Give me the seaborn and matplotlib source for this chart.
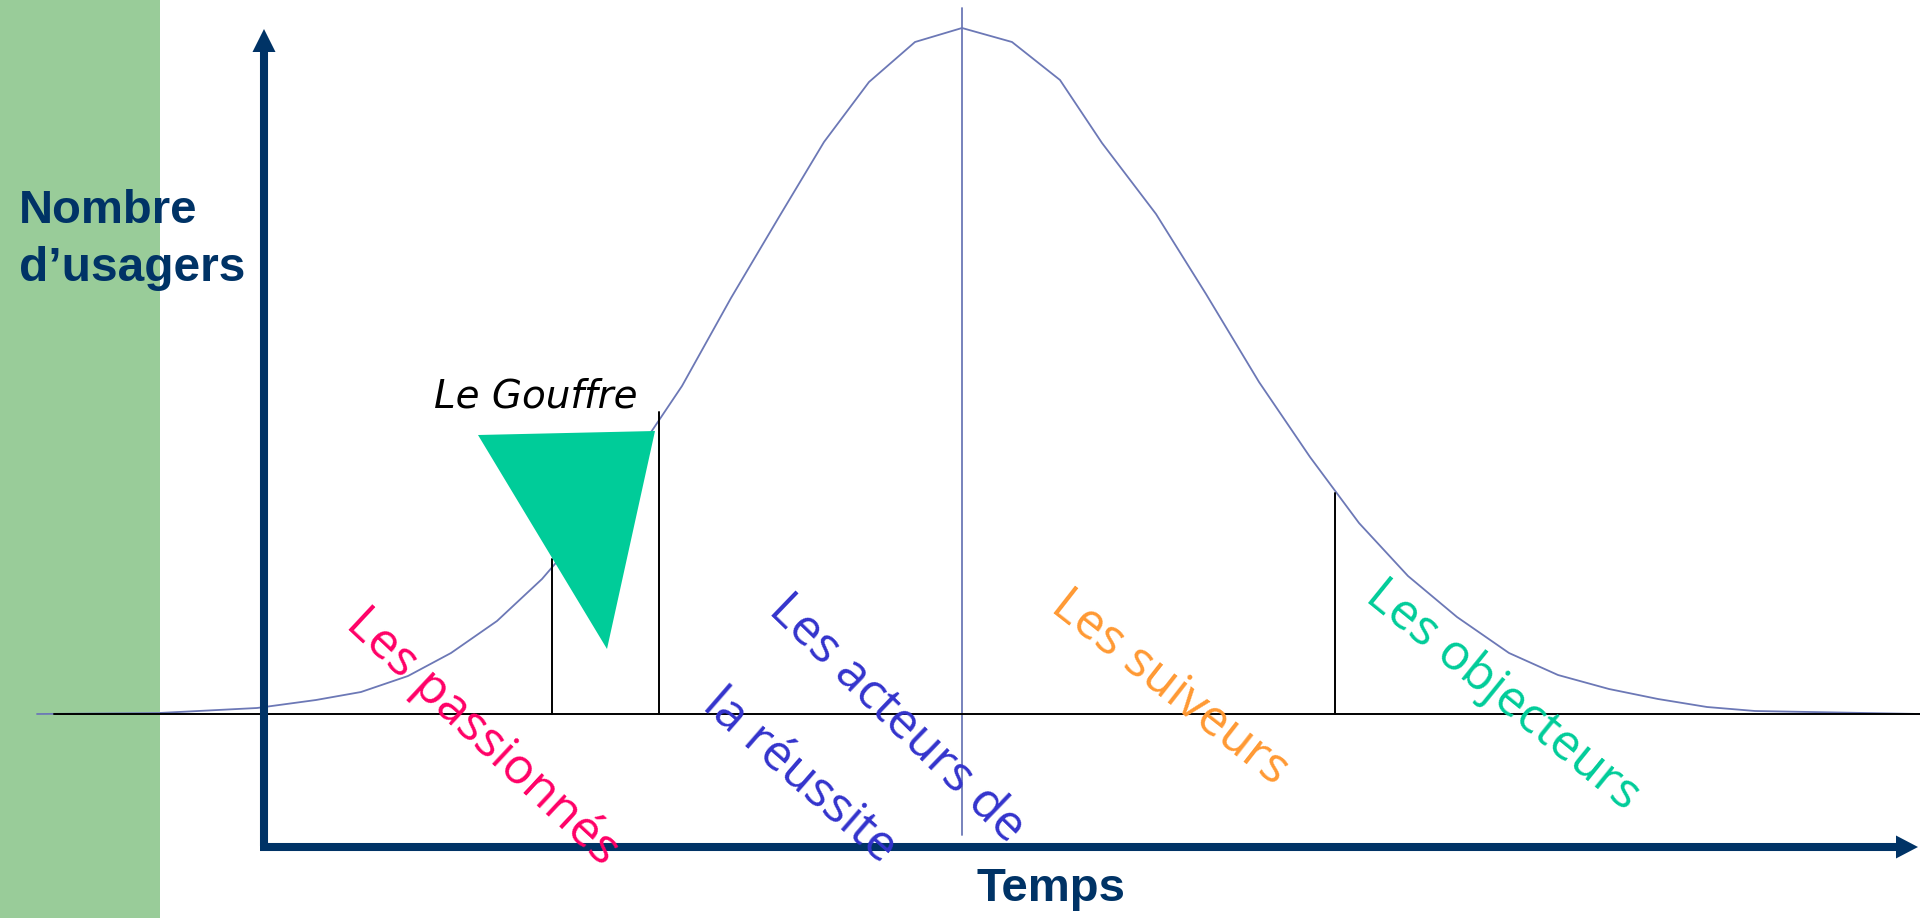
import matplotlib
matplotlib.use("Agg")
import matplotlib.pyplot as plt
from matplotlib.patches import Polygon, Rectangle
import seaborn as sns
import pandas as pd

# ---------------- data ----------------
# time (horizontal position) and number of users (height above the baseline)
curve_time = [37, 159, 257, 316, 361, 408, 451, 497, 542, 585, 637, 682, 731, 779,
              824, 869, 915, 962, 1012, 1060, 1102, 1156, 1206, 1259, 1310, 1359,
              1408, 1457, 1509, 1558, 1609, 1658, 1707, 1755, 1920]
curve_users = [0, 1, 6, 14, 22, 38, 61, 93, 135, 185, 261, 328, 416, 497,
               572, 632, 672, 686, 672, 634, 571, 500, 420, 332, 257, 191,
               138, 97, 61, 39, 25, 15, 7, 3, 0]

# segment boundaries: time, top of the divider
boundary_time = [552, 659, 1335]
boundary_top = [155, 302, 221]

# peak marker
peak_time = 962
peak_span = [706, -121]

# "Le Gouffre" triangle (time, users)
gap_time = [478, 655, 607]
gap_users = [279, 283, 65]

segment_labels = ["Les passionnés", "Les acteurs de", "la réussite",
                  "Les suiveurs", "Les objecteurs"]
segment_colors = ["#FF0066", "#3333CC", "#3333CC", "#FF9933", "#00CC99"]
label_time = [344, 767, 701, 1049, 1364]
label_users = [88, 102, 6, 104, 114]
label_angle = [-43, -44, -41, -38, -39]

y_title = ["Nombre", "d\u2019usagers"]
x_title = "Temps"
gap_title = "Le Gouffre"

# ---------------- styling ----------------
sns.set_style("white")
NAVY = "#003366"
CURVE = "#6C78B6"

fig = plt.figure(figsize=(19.2, 9.18), dpi=100)
ax = fig.add_axes([0, 0, 1, 1])
ax.set_xlim(0, 1920)
ax.set_ylim(-204, 714)
ax.axis("off")

# green band on the left
ax.add_patch(Rectangle((0, -204), 160, 918, facecolor="#99CC99",
                       edgecolor="none", zorder=0))

df = pd.DataFrame({"time": curve_time, "users": curve_users})
sns.lineplot(data=df, x="time", y="users", ax=ax, color=CURVE, lw=1.3,
             sort=False, zorder=2)

# baseline
ax.plot([54, 1920], [0, 0], color="black", lw=1.4, zorder=3)

# peak line
ax.plot([peak_time, peak_time], peak_span, color=CURVE, lw=1.3, zorder=2)

# segment boundaries
for t, top in zip(boundary_time, boundary_top):
    ax.plot([t, t], [0, top], color="black", lw=1.4, zorder=3)

# triangle
ax.add_patch(Polygon(list(zip(gap_time, gap_users)), closed=True,
                     facecolor="#00CC99", edgecolor="none", zorder=4))

# axes arrows (navy)
ax.plot([264, 264], [-132, 662], color=NAVY, lw=5.8, solid_capstyle="butt", zorder=5)
ax.add_patch(Polygon([(252.5, 662), (275.5, 662), (264, 685)], closed=True,
                     facecolor=NAVY, edgecolor="none", zorder=5))
ax.plot([260, 1896], [-133, -133], color=NAVY, lw=5.8, solid_capstyle="butt", zorder=5)
ax.add_patch(Polygon([(1896, -121.5), (1896, -144.5), (1918, -133)], closed=True,
                     facecolor=NAVY, edgecolor="none", zorder=5))

# titles
ax.text(19, 491, y_title[0], fontsize=34, fontweight="bold", color=NAVY,
        family="Liberation Sans", ha="left", va="baseline", zorder=6)
ax.text(19, 433, y_title[1], fontsize=34.5, fontweight="bold", color=NAVY,
        family="Liberation Sans", ha="left", va="baseline", zorder=6)
ax.text(1051, -187, x_title, fontsize=34, fontweight="bold", color=NAVY,
        family="Liberation Sans", ha="center", va="baseline", zorder=6)

ax.text(434, 307, gap_title, fontsize=28, style="italic", color="black",
        family="DejaVu Sans", ha="left", va="baseline", zorder=6)

for lab, col, t, u, ang in zip(segment_labels, segment_colors, label_time,
                               label_users, label_angle):
    ax.text(t, u, lab, fontsize=36, color=col, family="Open Sans",
            rotation=ang, rotation_mode="anchor", ha="left", va="baseline",
            zorder=6)

fig.savefig("out.png", dpi=100)
